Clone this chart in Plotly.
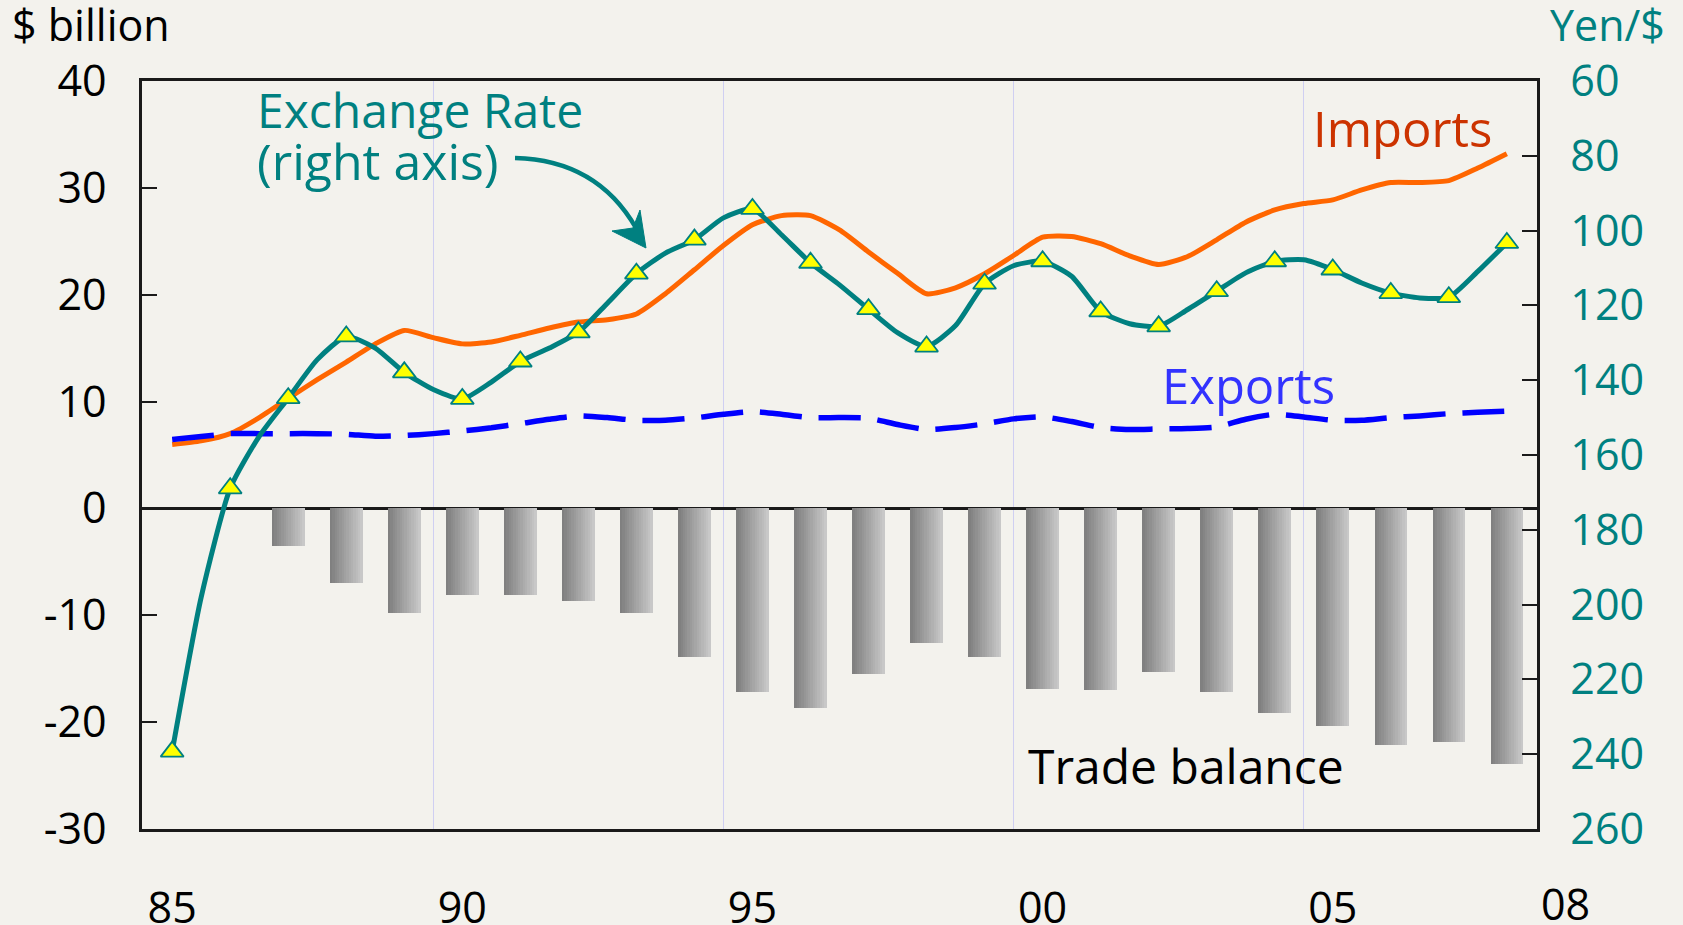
import plotly.graph_objects as go

# ---------------- data ----------------
half_years = [1985.0 + 0.5 * i for i in range(47)]  # 1985.0 ... 2008.0

imports = [5.98, 6.32, 7.0, 8.5, 10.3, 12.05, 13.7, 15.4, 16.66, 15.98,
           15.4, 15.57, 16.2, 16.88, 17.44, 17.66, 18.2, 20.1, 22.34, 24.6,
           26.54, 27.4, 27.4, 26.06, 24.0, 22.0, 20.09, 20.65, 21.96, 23.67,
           25.38, 25.45, 24.77, 23.64, 22.83, 23.58, 25.14, 26.79, 27.94, 28.53,
           28.87, 29.81, 30.5, 30.5, 30.68, 31.86, 33.2]

exports = [6.45, 6.73, 7.0, 7.0, 7.0, 7.0, 6.94, 6.76, 6.82, 7.0,
           7.25, 7.55, 7.94, 8.35, 8.66, 8.5, 8.25, 8.25, 8.47, 8.81,
           9.06, 8.81, 8.5, 8.5, 8.44, 7.85, 7.38, 7.57, 7.91, 8.38,
           8.57, 8.13, 7.57, 7.38, 7.44, 7.48, 7.63, 8.35, 8.81, 8.56,
           8.25, 8.25, 8.5, 8.66, 8.87, 8.99, 9.1]

yen_per_dollar = [239.3, 198.0, 168.9, 155.0, 144.8, 134.5, 128.3, 131.4, 137.9, 142.5,
                  145.0, 140.5, 135.0, 131.4, 127.2, 119.4, 111.5, 106.0, 102.4, 96.6,
                  94.2, 101.1, 108.6, 114.5, 121.0, 127.3, 131.0, 125.4, 114.2, 109.4,
                  108.2, 112.2, 121.6, 124.9, 125.6, 121.1, 116.2, 111.3, 108.2, 107.8,
                  110.4, 114.0, 116.7, 118.0, 117.8, 110.9, 103.3]

tb_years = list(range(1987, 2009))
trade_balance = [-3.5, -7.0, -9.8, -8.1, -8.1, -8.7, -9.8, -13.9, -17.2, -18.7,
                 -15.5, -12.6, -13.9, -16.9, -17.0, -15.3, -17.2, -19.1, -20.4, -22.1,
                 -21.9, -23.9]

x_tickvals = [1985, 1990, 1995, 2000, 2005]
x_ticktext = ["85", "90", "95", "00", "05"]
y_tickvals = [-30, -20, -10, 0, 10, 20, 30, 40]
y_ticktext = ["-30", "-20", "-10", "0", "10", "20", "30", "40"]
y2_tickvals = [60, 80, 100, 120, 140, 160, 180, 200, 220, 240, 260]
grid_years = [1989.5, 1994.5, 1999.5, 2004.5]

# ---------------- style ----------------
FONT = "Open Sans"
BG = "#f3f2ed"
TEAL = "#008080"
ORANGE = "#ff6600"
BLUE = "#0000ff"
AXIS = "#1a1a1a"

W, H = 1683, 925
L, R, T, B = 142, 1537, 81, 829  # plot area in pixels


def px(x):
    return (x - L) / (R - L)


def py(y):
    return (B - y) / (B - T)


fig = go.Figure()

# bars with a left-to-right grey gradient (slices)
n_slices = 14
bar_w = 0.56
slice_w = bar_w / n_slices
c0, c1 = (128, 128, 128), (200, 200, 200)
for i in range(n_slices):
    t = i / (n_slices - 1)
    col = "rgb(%d,%d,%d)" % tuple(int(a + (b - a) * t) for a, b in zip(c0, c1))
    fig.add_bar(x=tb_years, y=trade_balance, width=slice_w * 1.15,
                offset=-bar_w / 2 + i * slice_w, marker=dict(color=col, line=dict(width=0)),
                showlegend=False, hoverinfo="skip")

fig.add_scatter(x=half_years, y=imports, mode="lines",
                line=dict(color=ORANGE, width=5, shape="spline", smoothing=0.6),
                showlegend=False)
fig.add_scatter(x=half_years, y=exports, mode="lines",
                line=dict(color=BLUE, width=5.5, dash="42px,17px", shape="spline", smoothing=0.6),
                showlegend=False)
fig.add_scatter(x=half_years, y=yen_per_dollar, yaxis="y2", mode="lines",
                line=dict(color=TEAL, width=5, shape="spline", smoothing=0.6),
                showlegend=False)
fig.add_scatter(x=half_years[::2], y=yen_per_dollar[::2], yaxis="y2", mode="markers",
                marker=dict(symbol="triangle-up", size=20, color="#ffff00",
                            line=dict(color=TEAL, width=1.8)),
                showlegend=False)

tick_font = dict(family=FONT, size=43, color="black")

fig.update_layout(
    width=W, height=H,
    margin=dict(l=L, r=W - R, t=T, b=H - B, autoexpand=False),
    paper_bgcolor=BG, plot_bgcolor=BG,
    barmode="overlay", bargap=0,
    xaxis=dict(range=[1984.48, 2008.52], tickvals=x_tickvals, ticktext=x_ticktext,
               ticks="", showgrid=False, zeroline=False,
               showline=True, mirror=True, linecolor=AXIS, linewidth=2.5,
               tickfont=tick_font, ticklabelstandoff=40,
               minor=dict(tickvals=grid_years, showgrid=True, gridcolor="#cfcff2",
                          gridwidth=1, ticks="")),
    yaxis=dict(range=[-30, 40], tickvals=y_tickvals, ticktext=y_ticktext,
               ticks="inside", ticklen=15, tickwidth=2, tickcolor=AXIS,
               showgrid=False, zeroline=True, zerolinecolor=AXIS, zerolinewidth=2.5,
               showline=True, linecolor=AXIS, linewidth=2.5,
               tickfont=tick_font, ticklabelstandoff=24),
    yaxis2=dict(range=[260, 60], tickvals=y2_tickvals, overlaying="y", side="right",
                ticks="inside", ticklen=15, tickwidth=2, tickcolor=AXIS,
                showgrid=False, zeroline=False,
                showline=True, linecolor=AXIS, linewidth=2.5,
                tickfont=dict(family=FONT, size=43, color=TEAL), ticklabelstandoff=22),
)


def txt(text, x, y, size, color, xanchor="left"):
    fig.add_annotation(text=text, x=px(x), y=py(y), xref="paper", yref="paper",
                       xanchor=xanchor, yanchor="middle", showarrow=False,
                       font=dict(family=FONT, size=size, color=color))


txt("$ billion", 10, 25, 43, "black")
txt("Yen/$", 1607, 25, 43, TEAL, xanchor="center")
txt("Exchange Rate", 255, 109, 48, TEAL)
txt("(right axis)", 255, 161, 50, TEAL)
txt("Imports", 1402, 128, 49, "#cc3300", xanchor="center")
txt("Exports", 1160, 385, 49, "#3333ff")
txt("Trade balance", 1026, 765, 48, "black")
# "08" label at the right end of the time axis
txt("08", 1565, 903, 43, "black", xanchor="center")

# curved arrow from the exchange-rate label
fig.add_shape(type="path", xref="paper", yref="paper",
              path="M %f,%f Q %f,%f %f,%f" % (px(515), py(158), px(597), py(160), px(636), py(228)),
              line=dict(color=TEAL, width=4.5))
fig.add_shape(type="path", xref="paper", yref="paper",
              path="M %f,%f L %f,%f L %f,%f L %f,%f Z" % (px(612), py(231), px(646), py(248),
                                                         px(640), py(210), px(633), py(228)),
              line=dict(color=TEAL, width=1), fillcolor=TEAL)

fig.write_html("out.html", config={"displayModeBar": False},
               post_script="document.body.style.margin='0px';document.body.style.padding='0px';")
